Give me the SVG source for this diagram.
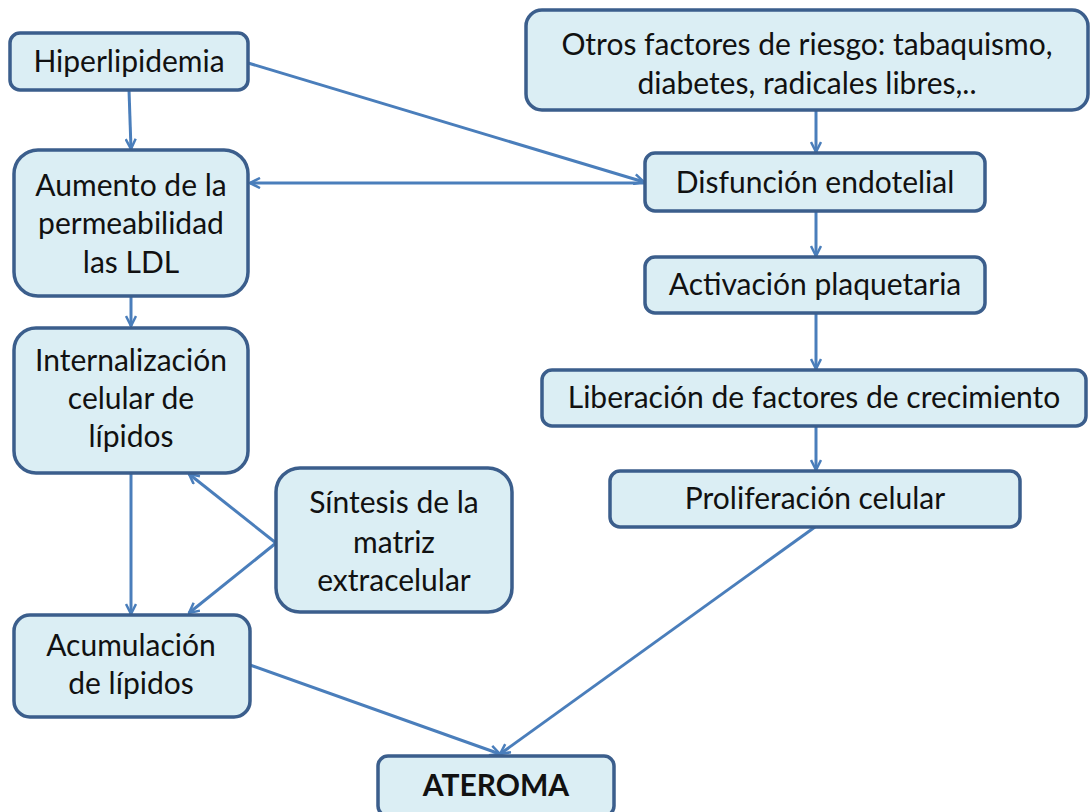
<svg xmlns="http://www.w3.org/2000/svg" width="1091" height="812" viewBox="0 0 1091 812">
<defs>
<style>
.box{fill:#DBEEF4;stroke:#3B5E8C;stroke-width:3.5}
.t{font-family:Lato,"Liberation Sans",sans-serif;font-size:30px;fill:#111;text-anchor:middle}
.b{font-weight:bold}
.c{stroke:#4A7EBB;stroke-width:3;fill:none;marker-end:url(#ah)}
</style>
<marker id="ah" viewBox="0 0 12 12" refX="11" refY="6" markerWidth="12" markerHeight="12" markerUnits="userSpaceOnUse" orient="auto">
<path d="M1,1 L11,6 L1,11" fill="none" stroke="#4A7EBB" stroke-width="2.5"/>
</marker>
</defs>
<rect width="1091" height="812" fill="#fff"/>
<g id="connectors">
<line class="c" x1="129" y1="90" x2="131" y2="149"/>
<line class="c" x1="248" y1="63" x2="644" y2="182"/>
<line class="c" x1="645" y1="183" x2="250" y2="183"/>
<line class="c" x1="816" y1="110" x2="816" y2="152"/>
<line class="c" x1="816" y1="211" x2="816" y2="256"/>
<line class="c" x1="816" y1="313" x2="816" y2="369"/>
<line class="c" x1="816" y1="426" x2="816" y2="470"/>
<line class="c" x1="131" y1="296" x2="131" y2="326"/>
<line class="c" x1="131" y1="473" x2="131" y2="614"/>
<line class="c" x1="276" y1="543" x2="189" y2="474"/>
<line class="c" x1="276" y1="543" x2="189" y2="613"/>
<line class="c" x1="250" y1="665" x2="500" y2="754"/>
<line class="c" x1="815" y1="527" x2="500" y2="754"/>
</g>
<g id="n-hiper"><rect class="box" x="10" y="33" width="238" height="57" rx="10"/><text class="t" x="129" y="72">Hiperlipidemia</text></g>
<g id="n-otros"><rect class="box" x="526" y="10" width="562" height="100" rx="16"/><text class="t" x="807" y="55">Otros factores de riesgo: tabaquismo,</text><text class="t" x="807" y="94">diabetes, radicales libres,..</text></g>
<g id="n-disf"><rect class="box" x="645" y="153" width="340" height="58" rx="10"/><text class="t" x="815" y="193">Disfunción endotelial</text></g>
<g id="n-aumento"><rect class="box" x="14" y="150" width="234" height="146" rx="24"/><text class="t" x="131" y="196">Aumento de la</text><text class="t" x="131" y="234">permeabilidad</text><text class="t" x="131" y="273">las LDL</text></g>
<g id="n-activ"><rect class="box" x="645" y="257" width="340" height="56" rx="10"/><text class="t" x="815" y="295">Activación plaquetaria</text></g>
<g id="n-intern"><rect class="box" x="14" y="328" width="234" height="145" rx="22"/><text class="t" x="131" y="371">Internalización</text><text class="t" x="131" y="409">celular de</text><text class="t" x="131" y="447">lípidos</text></g>
<g id="n-liber"><rect class="box" x="542" y="370" width="544" height="56" rx="10"/><text class="t" x="814" y="408">Liberación de factores de crecimiento</text></g>
<g id="n-prolif"><rect class="box" x="610" y="471" width="410" height="56" rx="10"/><text class="t" x="815" y="509">Proliferación celular</text></g>
<g id="n-sintesis"><rect class="box" x="276" y="468" width="236" height="144" rx="24"/><text class="t" x="394" y="513">Síntesis de la</text><text class="t" x="394" y="553">matriz</text><text class="t" x="394" y="591">extracelular</text></g>
<g id="n-acum"><rect class="box" x="14" y="615" width="236" height="102" rx="16"/><text class="t" x="131" y="656">Acumulación</text><text class="t" x="131" y="694">de lípidos</text></g>
<g id="n-ateroma"><rect class="box" x="378" y="756" width="236" height="60" rx="10"/><text class="t b" x="496" y="796">ATEROMA</text></g>
</svg>
